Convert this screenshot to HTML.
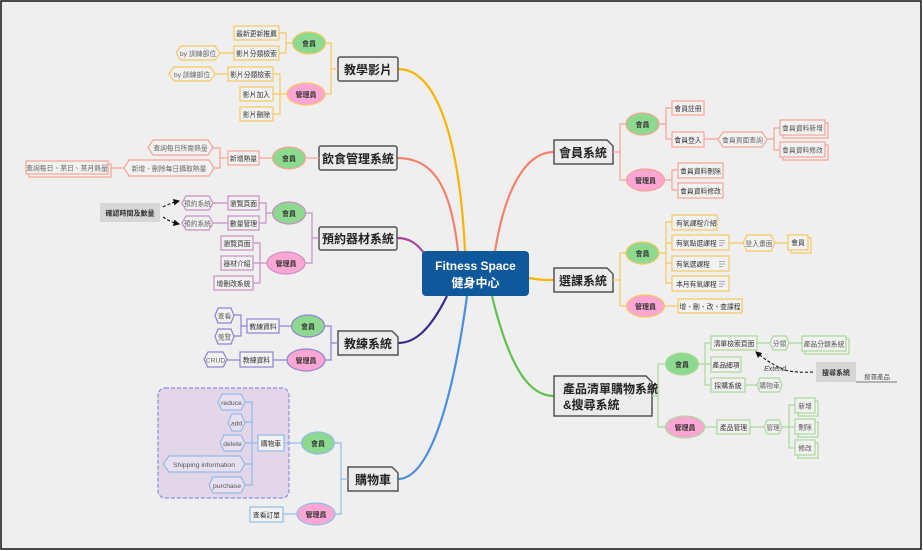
<!DOCTYPE html>
<html><head><meta charset="utf-8"><style>
html,body{margin:0;padding:0;background:#fff}
svg{display:block}
text{font-family:"Liberation Sans","Noto Sans CJK TC",sans-serif;fill:#333}
.s{font-size:6.8px}
.e{font-size:7px;font-weight:bold}
.m{font-size:12px;font-weight:bold;fill:#222}
</style></head><body>
<svg width="923" height="551" viewBox="0 0 923 551" xmlns="http://www.w3.org/2000/svg">
<rect x="0" y="0" width="923" height="551" fill="#fff"/>
<rect x="1" y="1" width="920" height="548" fill="#efefef" stroke="#111" stroke-width="1.5"/>
<defs>
<marker id="ar" markerWidth="6" markerHeight="6" refX="5" refY="3" orient="auto"><path d="M0,0 L6,3 L0,6 z" fill="#111"/></marker>
</defs>

<g fill="none" stroke-width="2.2">
<path d="M465 251 C460 150 440 69 398 69" stroke="#f7b500"/>
<path d="M458 251 C450 180 430 158 397 158" stroke="#f7806c"/>
<path d="M426 256 C418 244 410 238 397 238" stroke="#a3479a"/>
<path d="M447 296 C430 330 415 343 398 343" stroke="#3b2a8f"/>
<path d="M467 296 C450 420 425 479 398 479" stroke="#4a8ee0"/>
<path d="M495 251 C505 190 525 152 554 152" stroke="#f7806c"/>
<path d="M529 278 C540 280 545 280 554 280" stroke="#f7b500"/>
<path d="M492 296 C510 370 530 396 554 396" stroke="#62c04c"/>
</g>

<rect x="422" y="251" width="107" height="45" rx="4" fill="#0f589c"/>
<text x="475.5" y="270" text-anchor="middle" style="font-size:12px;font-weight:bold;fill:#fff">Fitness Space</text>
<text x="475.5" y="287" text-anchor="middle" style="font-size:12px;font-weight:bold;fill:#fff">健身中心</text>

<g fill="#ececec" stroke="#555" stroke-width="1.5">
<rect x="338" y="57" width="60" height="24" rx="2"/>
<rect x="319" y="146" width="78" height="24" rx="2"/>
<rect x="319" y="227" width="78" height="23" rx="2"/>
<path d="M338 331 H392 L398 337 V355 H338 Z"/>
<path d="M348 467 H392 L398 473 V491 H348 Z"/>
<path d="M554 140 H607 L613 146 V164 H554 Z"/>
<path d="M554 268 H607 L613 274 V292 H554 Z"/>
<path d="M554 376 H646 L652 382 V416 H554 Z"/>
</g>
<text class="m" x="368" y="74" text-anchor="middle">教學影片</text>
<text class="m" x="358" y="163" text-anchor="middle">飲食管理系統</text>
<text class="m" x="358" y="243" text-anchor="middle">預約器材系統</text>
<text class="m" x="368" y="348" text-anchor="middle">教練系統</text>
<text class="m" x="373" y="484" text-anchor="middle">購物車</text>
<text class="m" x="583" y="157" text-anchor="middle">會員系統</text>
<text class="m" x="583" y="285" text-anchor="middle">選課系統</text>
<text class="m" x="563" y="393">產品清單購物系統</text>
<text class="m" x="563" y="409">&amp;搜尋系統</text>

<g fill="none" stroke="#f6c860" stroke-width="1.2">
<path d="M338 69 H331 M325 43 H331 V94 H325"/>
<path d="M292 43 H286 M279 33 H286 V53 H279"/>
<path d="M234 53 H220"/>
<path d="M287 94 H280 M273 74 H280 V114 H273 M273 94 H280"/>
<path d="M228 74 H215"/>
</g>
<g fill="#f2f2f2" stroke="#f6c860" stroke-width="1.2">
<rect x="234" y="26" width="45" height="14"/>
<rect x="234" y="46" width="45" height="14"/>
<polygon points="181,46 215,46 220,53 215,60 181,60 176,53"/>
<rect x="228" y="67" width="45" height="14"/>
<polygon points="174,67 210,67 215,74 210,81 174,81 169,74"/>
<rect x="240" y="87" width="33" height="14"/>
<rect x="240" y="107" width="33" height="14"/>
</g>
<text class="s" x="256.5" y="36" text-anchor="middle">最新更新推薦</text>
<text class="s" x="256.5" y="56" text-anchor="middle">影片分類檢索</text>
<text class="s" x="198" y="56" text-anchor="middle" style="fill:#666">by 訓練部位</text>
<text class="s" x="250.5" y="77" text-anchor="middle">影片分類檢索</text>
<text class="s" x="192" y="77" text-anchor="middle" style="fill:#666">by 訓練部位</text>
<text class="s" x="256.5" y="97" text-anchor="middle">影片加入</text>
<text class="s" x="256.5" y="117" text-anchor="middle">影片刪除</text>
<ellipse cx="309" cy="43" rx="16.5" ry="11" fill="#8dd98f" stroke="#f6c860" stroke-width="1.2"/>
<ellipse cx="306" cy="94" rx="19" ry="11" fill="#fca7d3" stroke="#f6c860" stroke-width="1.2"/>
<text class="e" x="309" y="46" text-anchor="middle">會員</text>
<text class="e" x="306" y="97" text-anchor="middle">管理員</text>

<g fill="none" stroke="#f5a596" stroke-width="1.2">
<path d="M319 158 H305"/>
<path d="M273 158 H259"/>
<path d="M228 158 H220 M213 148 H220 V168 H214"/>
<path d="M124 168 H108"/>
</g>
<g fill="#f2f2f2" stroke="#f5a596" stroke-width="1.2">
<rect x="228" y="151" width="31" height="14"/>
<polygon points="153,140 208,140 213,147.5 208,155 153,155 148,147.5"/>
<polygon points="129,160 209,160 214,168 209,176 129,176 124,168"/>
<rect x="29" y="164" width="82" height="13"/>
<rect x="26" y="161" width="82" height="13"/>
</g>
<text class="s" x="243.5" y="161" text-anchor="middle">新增熱量</text>
<text class="s" x="180.5" y="150.5" text-anchor="middle" style="fill:#666">查詢每日所需熱量</text>
<text class="s" x="169" y="171" text-anchor="middle" style="fill:#666">新增、刪除每日攝取熱量</text>
<text class="s" x="67" y="170.5" text-anchor="middle" style="fill:#666">查詢每日、某日、某月熱量</text>
<ellipse cx="289" cy="158" rx="16.5" ry="11" fill="#8dd98f" stroke="#f5a596" stroke-width="1.2"/>
<text class="e" x="289" y="161" text-anchor="middle">會員</text>

<g fill="none" stroke="#c78fc3" stroke-width="1.2">
<path d="M319 238 H312 M305 213 H312 V263 H305"/>
<path d="M273 213 H266 M259 203 H266 V223 H259"/>
<path d="M228 203 H213 M228 223 H213"/>
<path d="M267 263 H260 M253 243 H260 V283 H253 M253 263 H260"/>
</g>
<g fill="#f2f2f2" stroke="#c78fc3" stroke-width="1.2">
<rect x="228" y="196" width="31" height="14"/>
<rect x="228" y="216" width="31" height="14"/>
<polygon points="186,196 209,196 213,203 209,210 186,210 182,203"/>
<polygon points="186,216 209,216 213,223 209,230 186,230 182,223"/>
<rect x="221" y="236" width="32" height="14"/>
<rect x="221" y="256" width="32" height="14"/>
<rect x="214" y="276" width="39" height="14"/>
</g>
<text class="s" x="243.5" y="206" text-anchor="middle">瀏覽頁面</text>
<text class="s" x="243.5" y="226" text-anchor="middle">數量管理</text>
<text class="s" x="197.5" y="206" text-anchor="middle" style="fill:#666">預約系統</text>
<text class="s" x="197.5" y="226" text-anchor="middle" style="fill:#666">預約系統</text>
<text class="s" x="237" y="246" text-anchor="middle">瀏覽頁面</text>
<text class="s" x="237" y="266" text-anchor="middle">器材介紹</text>
<text class="s" x="233.5" y="286" text-anchor="middle">增刪改系統</text>
<rect x="100" y="203" width="60" height="19" fill="#d6d6d6"/>
<text class="e" x="130" y="215.5" text-anchor="middle">確認時間及數量</text>
<path d="M163 207 Q170 203 179 201" fill="none" stroke="#111" stroke-width="1.1" stroke-dasharray="3,2" marker-end="url(#ar)"/>
<path d="M163 217 Q170 222 179 224" fill="none" stroke="#111" stroke-width="1.1" stroke-dasharray="3,2" marker-end="url(#ar)"/>
<ellipse cx="289" cy="213" rx="16.5" ry="11" fill="#8dd98f" stroke="#c78fc3" stroke-width="1.2"/>
<ellipse cx="286" cy="263" rx="19" ry="11" fill="#fca7d3" stroke="#c78fc3" stroke-width="1.2"/>
<text class="e" x="289" y="216" text-anchor="middle">會員</text>
<text class="e" x="286" y="266" text-anchor="middle">管理員</text>

<g fill="none" stroke="#8e82d2" stroke-width="1.2">
<path d="M338 343 H331 M325 326 H331 V360 H325"/>
<path d="M292 326 H279"/>
<path d="M247 326 H241 M234 315 H241 V336 H234"/>
<path d="M287 360 H273"/>
<path d="M240 360 H227"/>
</g>
<g fill="#f2f2f2" stroke="#8e82d2" stroke-width="1.2">
<rect x="247" y="319" width="32" height="14"/>
<polygon points="218,308 231,308 234,315.5 231,323 218,323 215,315.5"/>
<polygon points="218,329 231,329 234,336.5 231,344 218,344 215,336.5"/>
<rect x="240" y="352" width="33" height="15"/>
<polygon points="208,352 223,352 227,359.5 223,367 208,367 204,359.5"/>
</g>
<text class="s" x="263" y="329" text-anchor="middle">教練資料</text>
<text class="s" x="224.5" y="318.5" text-anchor="middle" style="fill:#666">查看</text>
<text class="s" x="224.5" y="339.5" text-anchor="middle" style="fill:#666">蒐覽</text>
<text class="s" x="256.5" y="362.5" text-anchor="middle">教練資料</text>
<text class="s" x="215.5" y="362.5" text-anchor="middle" style="fill:#666">CRUD</text>
<ellipse cx="308" cy="326" rx="16.5" ry="11" fill="#8dd98f" stroke="#8e82d2" stroke-width="1.2"/>
<ellipse cx="306" cy="360" rx="19" ry="11" fill="#fca7d3" stroke="#8e82d2" stroke-width="1.2"/>
<text class="e" x="308" y="329" text-anchor="middle">會員</text>
<text class="e" x="306" y="363" text-anchor="middle">管理員</text>

<rect x="158" y="388" width="131" height="110" rx="7" fill="#e3d6e9" stroke="#8d90df" stroke-width="1.2" stroke-dasharray="4,2"/>
<g fill="none" stroke="#93bbe9" stroke-width="1.2">
<path d="M348 479 H341 M334 443 H341 V514 H334"/>
<path d="M302 443 H284"/>
<path d="M258 443 H252 M245 402 H252 V485 H245 M245 422 H252 M245 443 H252 M245 464 H252"/>
<path d="M297 514 H283"/>
</g>
<g fill="#f2f2f2" stroke="#93bbe9" stroke-width="1.2">
<rect x="258" y="435" width="26" height="16"/>
<rect x="250" y="507" width="33" height="15"/>
</g>
<g fill="#e8e0f0" stroke="#93bbe9" stroke-width="1.2">
<polygon points="222,394 241,394 245,402 241,410 222,410 218,402"/>
<polygon points="232,414 241,414 245,422.5 241,431 232,431 228,422.5"/>
<polygon points="224,435 241,435 245,443 241,451 224,451 220,443"/>
<polygon points="169,456 240,456 245,464 240,472 169,472 163,464"/>
<polygon points="213,477 241,477 245,485 241,493 213,493 209,485"/>
</g>
<text class="s" x="231.5" y="405" text-anchor="middle" style="fill:#555">reduce</text>
<text class="s" x="236.5" y="425.5" text-anchor="middle" style="fill:#555">add</text>
<text class="s" x="232.5" y="446" text-anchor="middle" style="fill:#555">delete</text>
<text class="s" x="204" y="467" text-anchor="middle" style="fill:#555">Shipping information</text>
<text class="s" x="227" y="488" text-anchor="middle" style="fill:#555">purchase</text>
<text class="s" x="271" y="446" text-anchor="middle">購物車</text>
<text class="s" x="266.5" y="517.5" text-anchor="middle">查看訂單</text>
<ellipse cx="318" cy="443" rx="16.5" ry="11" fill="#8dd98f" stroke="#93bbe9" stroke-width="1.2"/>
<ellipse cx="316" cy="514" rx="19" ry="11" fill="#fca7d3" stroke="#93bbe9" stroke-width="1.2"/>
<text class="e" x="318" y="446" text-anchor="middle">會員</text>
<text class="e" x="316" y="517" text-anchor="middle">管理員</text>

<g fill="none" stroke="#f5a596" stroke-width="1.2">
<path d="M613 152 H620 M626 124 H620 V180 H626"/>
<path d="M659 124 H666 M672 108 H666 V139 H672"/>
<path d="M704 139 H718 M767 139 H774 M780 128 H774 V150 H780"/>
<path d="M665 180 H672 M678 170 H672 V190 H678"/>
</g>
<g fill="#f2f2f2" stroke="#f5a596" stroke-width="1.2">
<rect x="672" y="101" width="32" height="14"/>
<rect x="672" y="132" width="32" height="15"/>
<polygon points="723,132 762,132 767,139.5 762,147 723,147 718,139.5"/>
<rect x="783" y="123" width="45" height="15"/>
<rect x="780" y="120" width="45" height="15"/>
<rect x="783" y="145" width="45" height="15"/>
<rect x="780" y="142" width="45" height="15"/>
<rect x="678" y="163" width="45" height="15"/>
<rect x="678" y="183" width="45" height="15"/>
</g>
<text class="s" x="688" y="111" text-anchor="middle">會員註冊</text>
<text class="s" x="688" y="142.5" text-anchor="middle">會員登入</text>
<text class="s" x="742.5" y="142.5" text-anchor="middle" style="fill:#666">會員頁面查詢</text>
<text class="s" x="802.5" y="130.5" text-anchor="middle" style="fill:#555">會員資料新增</text>
<text class="s" x="802.5" y="152.5" text-anchor="middle" style="fill:#555">會員資料修改</text>
<text class="s" x="700.5" y="173.5" text-anchor="middle">會員資料刪除</text>
<text class="s" x="700.5" y="193.5" text-anchor="middle">會員資料修改</text>
<ellipse cx="642.5" cy="124" rx="16.5" ry="11" fill="#8dd98f" stroke="#f5a596" stroke-width="1.2"/>
<ellipse cx="645.5" cy="180" rx="19" ry="11" fill="#fca7d3" stroke="#f5a596" stroke-width="1.2"/>
<text class="e" x="642.5" y="127" text-anchor="middle">會員</text>
<text class="e" x="645.5" y="183" text-anchor="middle">管理員</text>

<g fill="none" stroke="#f6c860" stroke-width="1.2">
<path d="M613 280 H620 M626 253 H620 V306 H626"/>
<path d="M659 253 H666 M672 222 H666 V283 H672 M672 243 H666 M672 263 H666"/>
<path d="M729 243 H743 M775 243 H788"/>
<path d="M665 306 H678"/>
</g>
<g fill="#f2f2f2" stroke="#f6c860" stroke-width="1.2">
<rect x="672" y="215" width="45" height="15"/>
<rect x="672" y="235" width="57" height="15"/>
<rect x="672" y="256" width="57" height="15"/>
<rect x="672" y="276" width="57" height="15"/>
<polygon points="747,235 771,235 775,243 771,251 747,251 743,243"/>
<rect x="791" y="238" width="20" height="15"/>
<rect x="788" y="235" width="20" height="15"/>
<rect x="678" y="299" width="64" height="14"/>
</g>
<g stroke="#999" stroke-width="0.8">
<path d="M719 240.5 H725 M719 243 H725 M719 245.5 H723"/>
<path d="M719 261.5 H725 M719 264 H725 M719 266.5 H723"/>
<path d="M719 281.5 H725 M719 284 H725 M719 286.5 H723"/>
</g>
<text class="s" x="676" y="225.5">有氧課程介紹</text>
<text class="s" x="676" y="245.5">有氧點選課程</text>
<text class="s" x="676" y="266.5">有氧選課程</text>
<text class="s" x="676" y="286.5">本月有氧課程</text>
<text class="s" x="759" y="246" text-anchor="middle" style="fill:#666">登入畫面</text>
<text class="s" x="798" y="245" text-anchor="middle">會員</text>
<text class="s" x="710" y="309" text-anchor="middle">增、刪、改、查課程</text>
<ellipse cx="642.5" cy="253" rx="16.5" ry="11" fill="#8dd98f" stroke="#f6c860" stroke-width="1.2"/>
<ellipse cx="645.5" cy="306" rx="19" ry="11" fill="#fca7d3" stroke="#f6c860" stroke-width="1.2"/>
<text class="e" x="642.5" y="256" text-anchor="middle">會員</text>
<text class="e" x="645.5" y="309" text-anchor="middle">管理員</text>

<g fill="none" stroke="#a9d99c" stroke-width="1.2">
<path d="M652 396 H658 M665 364 H658 V427 H665"/>
<path d="M698 364 H705 M711 343 H705 V385 H711 M711 364 H705"/>
<path d="M757 343 H770 M789 343 H802"/>
<path d="M745 385 H757"/>
<path d="M704 427 H717 M750 427 H764 M782 427 H789 M795 405 H789 V448 H795 M795 427 H789"/>
</g>
<g fill="#f2f2f2" stroke="#a9d99c" stroke-width="1.2">
<rect x="711" y="336" width="46" height="14"/>
<rect x="711" y="357" width="30" height="15"/>
<rect x="711" y="378" width="34" height="14"/>
<polygon points="773,336 786,336 789,343 786,350 773,350 770,343"/>
<rect x="805" y="339" width="44" height="15"/>
<rect x="802" y="336" width="44" height="15"/>
<polygon points="760,378 779,378 782,385 779,392 760,392 757,385"/>
<rect x="717" y="420" width="33" height="14"/>
<polygon points="767,420 779,420 782,427 779,434 767,434 764,427"/>
<rect x="798" y="401" width="20" height="15"/>
<rect x="795" y="398" width="20" height="15"/>
<rect x="798" y="422" width="20" height="15"/>
<rect x="795" y="419" width="20" height="15"/>
<rect x="798" y="443" width="20" height="15"/>
<rect x="795" y="440" width="20" height="15"/>
</g>
<text class="s" x="734" y="346" text-anchor="middle">清單檢索頁面</text>
<text class="s" x="726" y="367.5" text-anchor="middle">產品細項</text>
<text class="s" x="728" y="388" text-anchor="middle">採購系統</text>
<text class="s" x="779.5" y="346" text-anchor="middle" style="fill:#666">分類</text>
<text class="s" x="824" y="346.5" text-anchor="middle" style="fill:#555">產品分類系統</text>
<text class="s" x="769.5" y="388" text-anchor="middle" style="fill:#666">購物車</text>
<text class="s" x="733.5" y="430" text-anchor="middle">產品管理</text>
<text class="s" x="773" y="430" text-anchor="middle" style="fill:#666">管理</text>
<text class="s" x="805" y="408.5" text-anchor="middle" style="fill:#555">新增</text>
<text class="s" x="805" y="429.5" text-anchor="middle" style="fill:#555">刪除</text>
<text class="s" x="805" y="450.5" text-anchor="middle" style="fill:#555">修改</text>
<ellipse cx="682" cy="364" rx="16.5" ry="11" fill="#8dd98f" stroke="#a9d99c" stroke-width="1.2"/>
<ellipse cx="685" cy="427" rx="19.5" ry="11" fill="#fca7d3" stroke="#a9d99c" stroke-width="1.2"/>
<text class="e" x="682" y="367" text-anchor="middle">會員</text>
<text class="e" x="685" y="430" text-anchor="middle">管理員</text>
<rect x="816" y="362" width="40" height="20" fill="#d6d6d6"/>
<text class="e" x="836" y="375" text-anchor="middle">搜尋系統</text>
<path d="M856 382 H897" stroke="#777" stroke-width="1"/>
<text class="s" x="877" y="379" text-anchor="middle" style="fill:#555;font-size:6.5px">搜尋產品</text>
<path d="M813 372 Q795 373 785 370 Q770 364 756 352" fill="none" stroke="#111" stroke-width="1.1" stroke-dasharray="3,2" marker-end="url(#ar)"/>
<text x="775" y="371" text-anchor="middle" style="font-size:7px;font-style:italic;fill:#444">Extend</text>
</svg>
</body></html>
